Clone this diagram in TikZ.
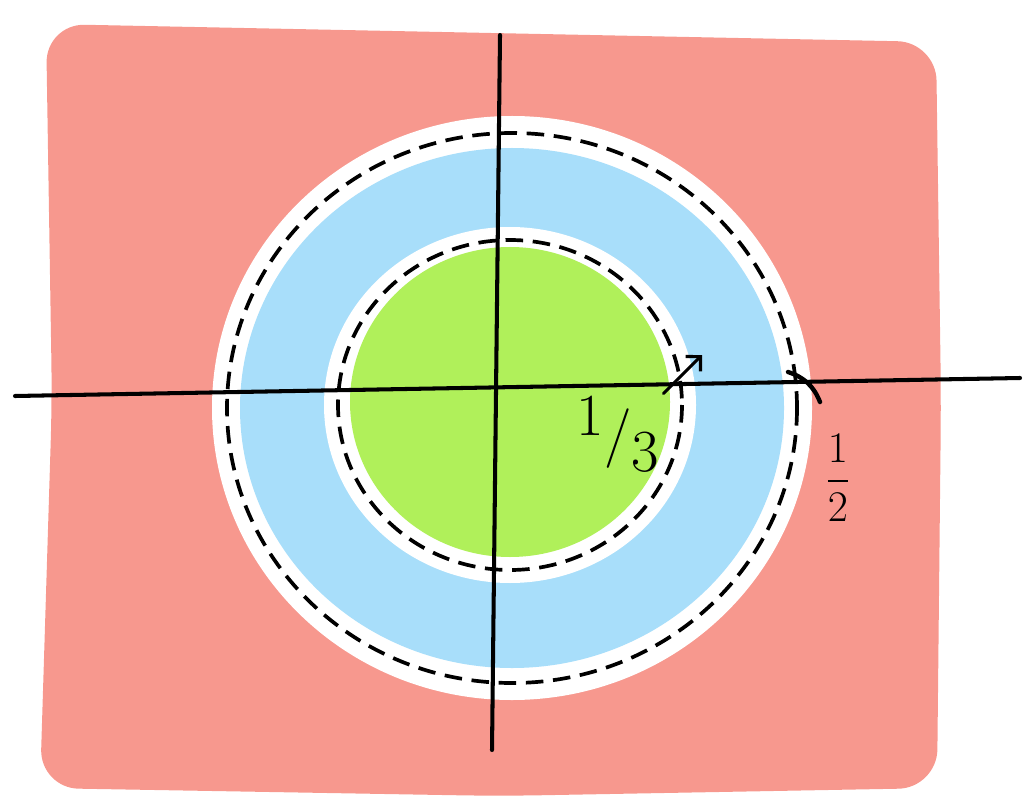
\documentclass[tikz,border=0pt]{standalone}
\usepackage{amsmath}
\usetikzlibrary{arrows.meta,calc}
\definecolor{sketchred}{RGB}{247,152,142}
\definecolor{sketchblue}{RGB}{168,222,250}
\definecolor{sketchgreen}{RGB}{176,240,90}

\begin{document}
\begin{tikzpicture}[x=0.02cm,y=-0.02cm,
    dashring/.style={black,line width=2.1pt,dash pattern=on 10pt off 5.5pt},
    axis/.style={black,line width=2.3pt,line cap=round},
    ink/.style={inner sep=0pt,font=\fontsize{34}{34}\selectfont}]
  \useasboundingbox (0,0) rectangle (1023,800);

  % red background
  \fill[sketchred,rounded corners=22pt] (46,24) -- (936,42)
    -- (941,400) -- (937,788) -- (500,796) -- (40,788) -- (52,400) -- cycle;

  % outer disc 1/2
  \fill[white] (512,408) ellipse [x radius=300, y radius=292];
  \fill[sketchblue] (512,408) ellipse [x radius=272, y radius=260];
  \draw[dashring] (512,408) ellipse [x radius=285, y radius=275];

  % inner disc 1/3
  \fill[white] (510,405) ellipse [x radius=186, y radius=178];
  \fill[sketchgreen] (510,402) ellipse [x radius=160, y radius=155];
  \draw[dashring] (510,405) ellipse [x radius=172, y radius=165];

  % axes
  \coordinate (west) at (15,396);
  \coordinate (east) at (1020,378);
  \coordinate (north) at (500,35);
  \coordinate (south) at (492,750);
  \draw[axis] (west) -- (east);
  \draw[axis] (north) -- (south);

  % labels
  \node[ink] (third) at (618,434) {\raisebox{0.3em}{1}/\raisebox{-0.3em}{3}};
  \coordinate (thirdmark) at (702,355);
  \draw[axis,line width=1.8pt,-{Straight Barb[length=6pt]}] ($(third.north east)+(4,-2)$) -- (thirdmark);

  \node[ink,font=\fontsize{44}{44}\selectfont] (half) at (838,478) {$\displaystyle\frac{1}{2}$};
  \coordinate (halfmark) at (788,372);
  \coordinate (halfend) at (820,402);
  \draw[axis,line width=2.5pt] (halfmark) to[bend left=25] (halfend);
\end{tikzpicture}
\end{document}
